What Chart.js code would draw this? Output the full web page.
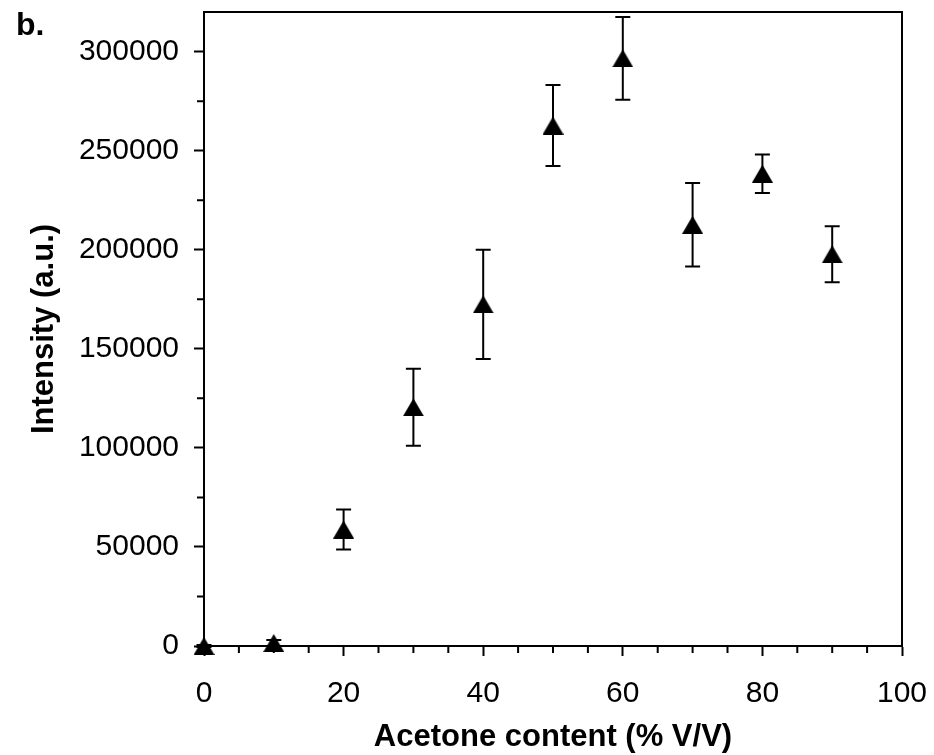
<!DOCTYPE html>
<html>
<head>
<meta charset="utf-8">
<script src="https://cdn.jsdelivr.net/npm/chart.js@4.4.1/dist/chart.umd.min.js"></script>
<style>
  body { margin: 0; background: #fff; }
  #wrap { position: relative; width: 934px; height: 755px; }
  #panel { position: absolute; left: 16px; top: 8px; font: bold 32px "Liberation Sans", Arial, sans-serif; line-height: 1; }
</style>
</head>
<body>
<div id="wrap">
  <canvas id="grafico" width="934" height="755"></canvas>
  <div id="panel">b.</div>
</div>
<script>
// data
const acetone = [0, 10, 20, 30, 40, 50, 60, 70, 80, 90]
const intensity = [0, 1500, 58800, 120500, 172400, 262700, 296600, 212600, 238400, 197700]
const errors = [500, 1500, 10100, 19400, 27600, 20400, 20900, 21100, 9700, 14100]

// tick positions (labelled ones get the long tick)
const xTicks = [0, 5, 10, 15, 20, 25, 30, 35, 40, 45, 50, 55, 60, 65, 70, 75, 80, 85, 90, 95, 100]
const xLabels = [0, 20, 40, 60, 80, 100]
const yTicks = [0, 25000, 50000, 75000, 100000, 125000, 150000, 175000, 200000, 225000, 250000, 275000, 300000]
const yLabels = [0, 50000, 100000, 150000, 200000, 250000, 300000]

Chart.defaults.font.family = '"Liberation Sans", Arial, sans-serif'
Chart.defaults.font.size = 30
Chart.defaults.color = '#000'

// triangle marker centred on its own box
const tri = document.createElement('canvas')
tri.width = 21
tri.height = 18
const tctx = tri.getContext('2d')
tctx.fillStyle = '#000'
tctx.beginPath()
tctx.moveTo(10.5, 0)
tctx.lineTo(21, 18)
tctx.lineTo(0, 18)
tctx.closePath()
tctx.fill()

const errorBars = {
  id: 'errorBars',
  afterDatasetsDraw(chart) {
    const {ctx, scales: {x, y}} = chart
    ctx.save()
    ctx.strokeStyle = '#000'
    ctx.lineWidth = 2
    acetone.forEach((v, i) => {
      const px = x.getPixelForValue(v)
      const top = y.getPixelForValue(intensity[i] + errors[i])
      const bot = y.getPixelForValue(intensity[i] - errors[i])
      ctx.beginPath()
      ctx.moveTo(px, top); ctx.lineTo(px, bot)
      ctx.moveTo(px - 7.5, top); ctx.lineTo(px + 7.5, top)
      ctx.moveTo(px - 7.5, bot); ctx.lineTo(px + 7.5, bot)
      ctx.stroke()
    })
    ctx.restore()
  }
}

// plot frame and the short minor ticks
const frame = {
  id: 'frame',
  afterDraw(chart) {
    const {ctx, chartArea: a, scales: {x, y}} = chart
    ctx.save()
    ctx.strokeStyle = '#000'
    ctx.lineWidth = 2
    ctx.strokeRect(a.left, a.top, a.right - a.left, a.bottom - a.top)
    ctx.beginPath()
    xTicks.filter(v => !xLabels.includes(v)).forEach(v => {
      const px = x.getPixelForValue(v)
      ctx.moveTo(px, a.bottom); ctx.lineTo(px, a.bottom + 7)
    })
    yTicks.filter(v => !yLabels.includes(v)).forEach(v => {
      const py = y.getPixelForValue(v)
      ctx.moveTo(a.left, py); ctx.lineTo(a.left - 7, py)
    })
    ctx.stroke()
    ctx.restore()
  }
}

const data = {
  datasets: [{
    data: acetone.map((v, i) => ({x: v, y: intensity[i]})),
    pointStyle: tri,
    backgroundColor: '#000',
    borderColor: '#000',
    showLine: false,
    clip: false
  }]
}

const config = {
  type: 'scatter',
  data,
  options: {
    responsive: false,
    animation: false,
    layout: { padding: { top: 12, right: 32, left: 0, bottom: 0 } },
    plugins: { legend: { display: false }, tooltip: { enabled: false } },
    scales: {
      x: {
        min: 0,
        max: 100,
        afterBuildTicks: s => { s.ticks = xLabels.map(v => ({value: v})) },
        afterFit: s => { s.height = 109; s.paddingLeft = 0; s.paddingRight = 0 },
        ticks: { autoSkip: false, maxRotation: 0, padding: 20, callback: v => String(v) },
        grid: { drawOnChartArea: false, tickLength: 10, tickWidth: 2, tickColor: '#000' },
        border: { color: '#000', width: 2 },
        title: {
          display: true,
          text: 'Acetone content (% V/V)',
          font: { size: 31, weight: 'bold' },
          padding: { top: 0, bottom: -1 }
        }
      },
      y: {
        min: 0,
        max: 320000,
        afterBuildTicks: s => { s.ticks = yLabels.map(v => ({value: v})) },
        afterFit: s => { s.width = 204; s.paddingTop = 0; s.paddingBottom = 0 },
        ticks: { autoSkip: false, padding: 15, callback: v => String(v) },
        grid: { drawOnChartArea: false, tickLength: 10, tickWidth: 2, tickColor: '#000' },
        border: { color: '#000', width: 2 },
        title: {
          display: true,
          text: 'Intensity (a.u.)',
          font: { size: 31, weight: 'bold' },
          padding: { top: 26, bottom: 0 }
        }
      }
    }
  },
  plugins: [errorBars, frame]
}

const graph = new Chart(document.getElementById('grafico'), config)
</script>
</body>
</html>
